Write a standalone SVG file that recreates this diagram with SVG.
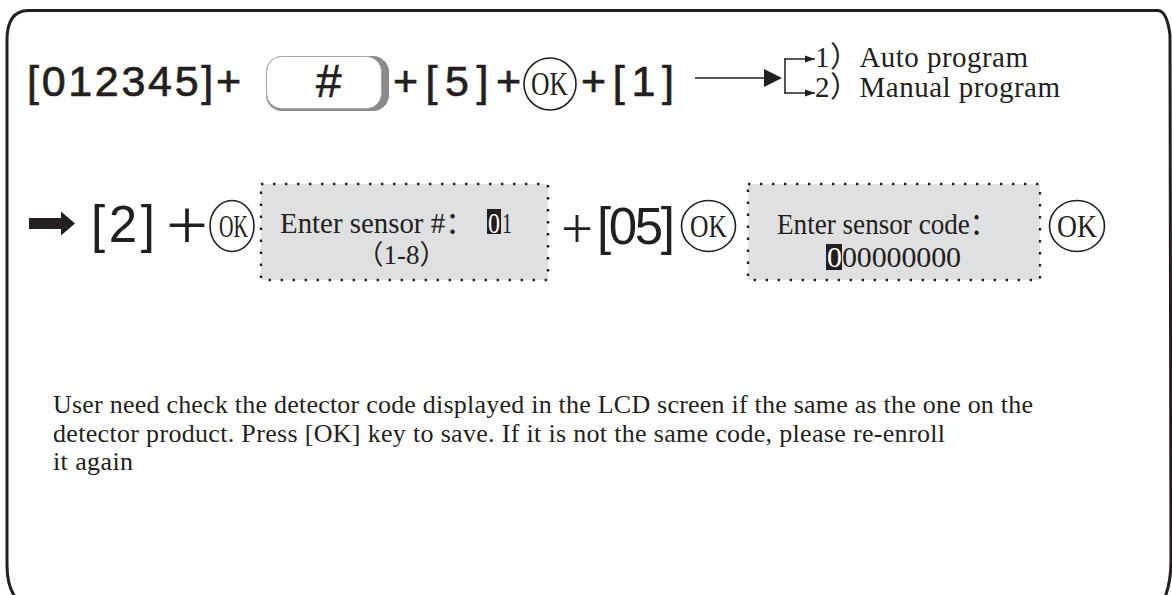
<svg xmlns="http://www.w3.org/2000/svg" width="1172" height="595" viewBox="0 0 1172 595">
<style>
.sans{font-family:"Liberation Sans",Arial,sans-serif;fill:#231f20}
.bold{stroke:#231f20;stroke-width:0.7}
.serif{font-family:"Liberation Serif","Noto Sans CJK SC",serif;fill:#231f20}
.okc{fill:none;stroke:#231f20;stroke-width:1.6}
.lcd{fill:#dfe0e2;stroke:#231f20;stroke-width:2.4;stroke-dasharray:2.4 9.6}
.ln{stroke:#231f20;stroke-width:1.5;fill:none}
</style>
<defs>
<marker id="ah" markerWidth="10" markerHeight="8" refX="10" refY="4" orient="auto" markerUnits="userSpaceOnUse"><path d="M0,0.5 L10,4 L0,7.5 Z" fill="#231f20"/></marker>
</defs>
<rect width="1172" height="595" fill="#fff"/>
<path id="frame" d="M15,597 Q7,585 7,565 L7,40 Q7,11 28,10.5 L1158,10.5 Q1167,11 1170,35 L1171,560 Q1171,582 1165,597" fill="none" stroke="#231f20" stroke-width="3"/>

<g id="code1"><text class="sans bold" x="27" y="96" font-size="43" textLength="214" lengthAdjust="spacing">[012345]+</text></g>
<g id="hashkey">
<rect x="266" y="56" width="123" height="55" rx="16" fill="#8a8a8a"/>
<rect x="266.5" y="56.5" width="115" height="52" rx="15" fill="#fff" stroke="#a8a8a8" stroke-width="1"/>
<text class="sans bold" x="328" y="97" font-size="46" font-style="italic" text-anchor="middle">#</text>
</g>
<g id="code5"><text class="sans bold" x="393" y="96" font-size="43" textLength="128" lengthAdjust="spacing">+[5]+</text></g>
<g id="ok1"><circle class="okc" cx="550" cy="84" r="26"/><text class="serif" x="531" y="95" font-size="33" textLength="37" lengthAdjust="spacingAndGlyphs">OK</text></g>
<g id="code1b"><text class="sans bold" x="581" y="96" font-size="43" textLength="93" lengthAdjust="spacing">+[1]</text></g>
<g id="opt1"><text class="serif" x="815" y="67" font-size="29" textLength="213" lengthAdjust="spacing">1）Auto program</text></g>
<g id="opt2"><text class="serif" x="815" y="97" font-size="29" textLength="245" lengthAdjust="spacing">2）Manual program</text></g>

<g id="code2"><text class="sans" x="91" y="242" font-size="51" textLength="64" lengthAdjust="spacing">[2]</text></g>
<g id="plus2"><text class="serif" x="166" y="249" font-size="72" textLength="42" lengthAdjust="spacingAndGlyphs">+</text></g>
<g id="ok2"><ellipse class="okc" cx="232" cy="226" rx="22" ry="25.5"/><text class="serif" x="219" y="237" font-size="31" textLength="29" lengthAdjust="spacingAndGlyphs">OK</text></g>
<g id="lcd1">
<rect class="lcd" x="261" y="184" width="287" height="96"/>
<text class="serif" x="280" y="233" font-size="30" textLength="194" lengthAdjust="spacingAndGlyphs">Enter sensor #：</text>
<rect x="487" y="209" width="14" height="25" fill="#231f20"/>
<text x="488" y="233" font-size="30" font-family="Liberation Serif,serif" fill="#fff" textLength="12" lengthAdjust="spacingAndGlyphs">0</text>
<text class="serif" x="502" y="233" font-size="30" textLength="10" lengthAdjust="spacingAndGlyphs">1</text>
<text class="serif" x="401.5" y="264" font-size="27" text-anchor="middle">（1-8）</text>
</g>
<g id="code05"><text class="serif" x="561" y="248" font-size="56" textLength="32" lengthAdjust="spacingAndGlyphs">+</text><text class="sans" x="597" y="244" font-size="51" textLength="78" lengthAdjust="spacing">[05]</text></g>
<g id="ok3"><ellipse class="okc" cx="708.5" cy="226" rx="27" ry="25.5"/><text class="serif" x="690" y="237" font-size="31" textLength="37" lengthAdjust="spacingAndGlyphs">OK</text></g>
<g id="lcd2">
<rect class="lcd" x="748" y="184" width="292" height="96"/>
<text class="serif" x="777" y="234" font-size="30" textLength="220" lengthAdjust="spacingAndGlyphs">Enter sensor code：</text>
<rect x="826" y="244" width="16" height="26" fill="#231f20"/>
<text class="serif" x="827" y="267" font-size="30" textLength="134" lengthAdjust="spacing"><tspan fill="#fff">0</tspan>00000000</text>
</g>
<g id="ok4"><ellipse class="okc" cx="1077" cy="226" rx="27.5" ry="25.5"/><text class="serif" x="1057" y="237" font-size="31" textLength="40" lengthAdjust="spacingAndGlyphs">OK</text></g>

<g id="note">
<text class="serif" x="53" y="413" font-size="26" textLength="980" lengthAdjust="spacing">User need check the detector code displayed in the LCD screen if the same as the one on the</text>
<text class="serif" x="53" y="442" font-size="26" textLength="892" lengthAdjust="spacing">detector product. Press [OK] key to save. If it is not the same code, please re-enroll</text>
<text class="serif" x="53" y="470" font-size="26" textLength="80" lengthAdjust="spacing">it again</text>
</g>

<g id="connectors">
<line class="ln" x1="695" y1="78" x2="766" y2="78"/>
<polygon points="764,69 782,78 764,87" fill="#231f20"/>
<line class="ln" x1="785" y1="58.3" x2="785" y2="93.7"/>
<line class="ln" x1="784.3" y1="59" x2="815" y2="59" marker-end="url(#ah)"/>
<line class="ln" x1="784.3" y1="93" x2="815" y2="93" marker-end="url(#ah)"/>
<polygon points="29,218 61,218 61,211.5 75,223.5 61,235.5 61,229 29,229" fill="#231f20"/>
</g>
</svg>
